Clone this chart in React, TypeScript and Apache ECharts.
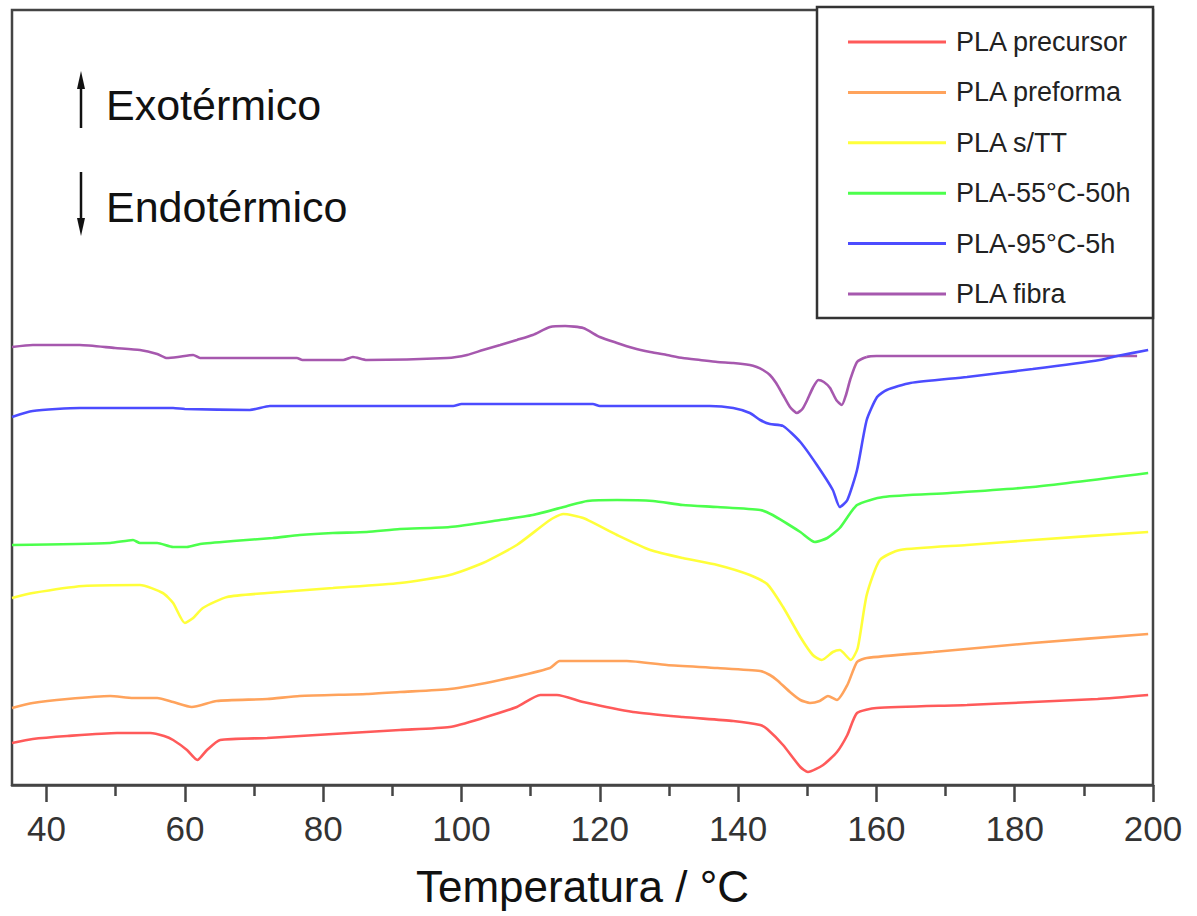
import React, { useEffect, useRef } from "react";
import * as echarts from "echarts";

// Names / colours (legend order)
const seriesNames = ["PLA precursor", "PLA preforma", "PLA s/TT", "PLA-55°C-50h", "PLA-95°C-5h", "PLA fibra"];
const seriesColors = ["#ff5a5a", "#ffa35c", "#ffff3a", "#4cff4c", "#4c4cff", "#a658ae"];

// X-axis tick values (°C)
const majorTicks = [40, 60, 80, 100, 120, 140, 160, 180, 200];
const minorTicks = [50, 70, 90, 110, 130, 150, 170, 190];

// DSC curves: [temperature °C, heat flow (a.u., offset for display)]
const precursor = [
  [35, 42], [38, 46], [43, 49], [50.2, 52], [55, 52], [57, 49], [58.3, 45], [60.3, 35], [61.8, 25], [63.2, 35],
  [65.1, 45], [71.9, 47], [81.4, 51], [91.1, 55], [98.3, 58], [103.1, 67], [108, 78], [111.4, 90], [113.8, 90],
  [117.6, 83], [124.8, 73], [132, 68], [139.3, 64], [143.2, 60], [144.2, 56], [146.5, 40], [149, 18], [150.1, 13],
  [152.3, 20], [154.3, 33], [155.8, 50], [157.2, 72], [160, 77], [173.1, 80], [182.6, 83], [192, 86], [199.3, 90],
];
const preforma = [
  [35, 77], [38, 82], [43, 86], [49.2, 89], [52.5, 87], [56, 87], [58.3, 83], [61, 78], [64.6, 84], [71.9, 86],
  [76.6, 89], [86.3, 91], [91.1, 93], [98.3, 96], [105.6, 105], [112.8, 117], [114.2, 124], [123.9, 124],
  [129.7, 120], [137, 117], [143.2, 114], [144.6, 110], [145.6, 105], [147.5, 93], [149, 85], [150.4, 82],
  [151.8, 84], [153, 89], [154.3, 85], [155.8, 100], [157.2, 123], [158.6, 127], [168.2, 133], [182.6, 142], [199.3, 151],
];
const sTT = [
  [35, 187], [38, 192], [45.3, 199], [53.5, 200], [56.8, 192], [58.3, 182], [60, 162], [61.2, 167], [62.6, 177],
  [66.1, 188], [71.9, 192], [81.4, 197], [91.1, 202], [98.3, 210], [103.1, 222], [108, 240], [112.8, 265],
  [114.7, 271], [117.6, 267], [122.5, 250], [127.3, 235], [132, 227], [137, 220], [141.7, 210], [144.2, 201],
  [146.5, 178], [149, 148], [150.8, 130], [152.1, 125], [153.7, 133], [154.7, 135], [156.3, 125], [157.3, 137],
  [158.6, 190], [160.5, 225], [163.4, 235], [173.1, 240], [182.6, 245], [199.3, 253],
];
const pla55 = [
  [35, 240], [49.2, 242], [52.5, 245], [53.5, 242], [56, 242], [58.3, 238], [60.3, 238], [62.2, 241], [67, 244],
  [72.7, 247], [76.6, 250], [81.4, 252], [86.3, 253], [91.1, 256], [98.3, 258], [105.6, 265], [110.3, 270],
  [115.3, 279], [118.2, 284], [122.5, 285], [127.7, 284], [132, 280], [137, 278], [143.2, 275], [145, 270],
  [149, 253], [151.1, 243], [152.9, 247], [154.7, 257], [157.2, 280], [161, 288], [170.6, 292], [182.6, 298], [199.3, 312],
];
const pla95 = [
  [35, 368], [38, 374], [44.8, 377], [58.3, 377], [60, 376], [69.4, 375], [72.3, 379], [98.8, 379], [100, 381],
  [119, 381], [120, 379], [135.9, 379], [139.3, 377], [141.7, 372], [143.2, 365], [144.6, 361], [146.5, 359],
  [149, 343], [151.4, 320], [153.7, 295], [154.7, 278], [155.8, 285], [157.2, 315], [158.6, 365], [160.1, 388],
  [161.5, 395], [164.9, 402], [173.1, 408], [182.6, 416], [192.3, 425], [194.8, 429], [199.3, 435],
];
const fibra = [
  [35, 438], [38, 440], [44.8, 440], [49.9, 437], [53.5, 435], [56, 431], [57.4, 427], [59, 428], [61.2, 430],
  [62.2, 427], [76.2, 427], [77, 425], [82.9, 425], [84.3, 428], [86.3, 425], [97.9, 427], [100.8, 430],
  [103.1, 435], [105.6, 440], [108, 445], [110.3, 450], [112.8, 458], [115, 459], [117.6, 457], [120, 448],
  [122.5, 442], [124.8, 437], [127.3, 433], [129.7, 430], [132, 427], [134.5, 425], [137, 423], [139.3, 422],
  [141.7, 420], [142.7, 418], [143.6, 415], [144.6, 410], [145.5, 402], [146.5, 390], [147.5, 378], [148.5, 372],
  [149.3, 376], [150, 385], [150.8, 397], [151.6, 405], [152.4, 403], [153.3, 397], [154.2, 385], [155, 380],
  [155.6, 390], [156.2, 405], [157.2, 423], [158.6, 428], [160, 429], [197.7, 429],
];

const seriesData = [precursor, preforma, sTT, pla55, pla95, fibra];
// drawing order: blue drawn above purple
const drawOrder = [0, 1, 2, 3, 5, 4];

const FONT = "'Liberation Sans', Arial, Helvetica, sans-serif";

export default function App() {
  const ref = useRef<HTMLDivElement>(null);
  useEffect(() => {
    if (!ref.current) return;
    const chart = echarts.init(ref.current, undefined, { renderer: "svg" });
    const option: any = {
      animation: false,
      backgroundColor: "#ffffff",
      grid: {
        left: 12, top: 10, right: 44, bottom: 131,
        show: true, borderColor: "#444", borderWidth: 2.5, backgroundColor: "transparent",
      },
      xAxis: [
        {
          type: "value", min: 35, max: 200, position: "bottom",
          name: "Temperatura / °C", nameLocation: "middle", nameGap: 101,
          nameTextStyle: { fontFamily: FONT, fontSize: 44, color: "#111", verticalAlign: "middle" },
          axisLine: { show: true, lineStyle: { color: "#444", width: 2.5 } },
          axisTick: { show: true, customValues: majorTicks, length: 17, lineStyle: { color: "#444", width: 2.5 } },
          axisLabel: { show: true, customValues: majorTicks, margin: 26, fontFamily: FONT, fontSize: 35, color: "#333" },
          splitLine: { show: false },
        },
        {
          type: "value", min: 35, max: 200, position: "bottom",
          axisLine: { show: false },
          axisTick: { show: true, customValues: minorTicks, length: 11, lineStyle: { color: "#444", width: 2.5 } },
          axisLabel: { show: false },
          splitLine: { show: false },
        },
      ],
      yAxis: {
        type: "value", min: 0, max: 775,
        axisLine: { show: false }, axisTick: { show: false }, axisLabel: { show: false }, splitLine: { show: false },
      },
      legend: {
        orient: "vertical",
        left: 848, top: 27, padding: 0,
        itemWidth: 98, itemHeight: 3, itemGap: 20.4,
        icon: "rect",
        selectedMode: false,
        z: 6,
        data: seriesNames,
        textStyle: { fontFamily: FONT, fontSize: 27, color: "#222", lineHeight: 30, padding: [0, 0, 0, 5] },
      },
      graphic: [
        {
          type: "rect", z: 4, silent: true,
          shape: { x: 817, y: 7, width: 336, height: 311 },
          style: { fill: "#fff", stroke: "#333", lineWidth: 2.5 },
        },
        { type: "line", shape: { x1: 81, y1: 128, x2: 81, y2: 84 }, style: { stroke: "#111", lineWidth: 2.5 }, z: 5 },
        { type: "polygon", shape: { points: [[81, 71], [77, 89], [85, 89]] }, style: { fill: "#111" }, z: 5 },
        { type: "line", shape: { x1: 81, y1: 172, x2: 81, y2: 222 }, style: { stroke: "#111", lineWidth: 2.5 }, z: 5 },
        { type: "polygon", shape: { points: [[81, 236], [77, 218], [85, 218]] }, style: { fill: "#111" }, z: 5 },
        {
          type: "text", x: 106, y: 105, z: 5,
          style: { text: "Exotérmico", fontFamily: FONT, fontSize: 43, fill: "#111", verticalAlign: "middle", align: "left" },
        },
        {
          type: "text", x: 106, y: 207, z: 5,
          style: { text: "Endotérmico", fontFamily: FONT, fontSize: 43, fill: "#111", verticalAlign: "middle", align: "left" },
        },
      ],
      series: drawOrder.map((i) => ({
        name: seriesNames[i],
        type: "line",
        xAxisIndex: 0,
        data: seriesData[i],
        showSymbol: false,
        smooth: 0.2,
        lineStyle: { color: seriesColors[i], width: 2.6 },
        itemStyle: { color: seriesColors[i] },
        z: 2,
      })),
    };
    chart.setOption(option);
    return () => chart.dispose();
  }, []);
  return (
    <div
      ref={ref}
      style={{ position: "fixed", left: 0, top: 0, width: 1197, height: 916, background: "#fff" }}
    />
  );
}
